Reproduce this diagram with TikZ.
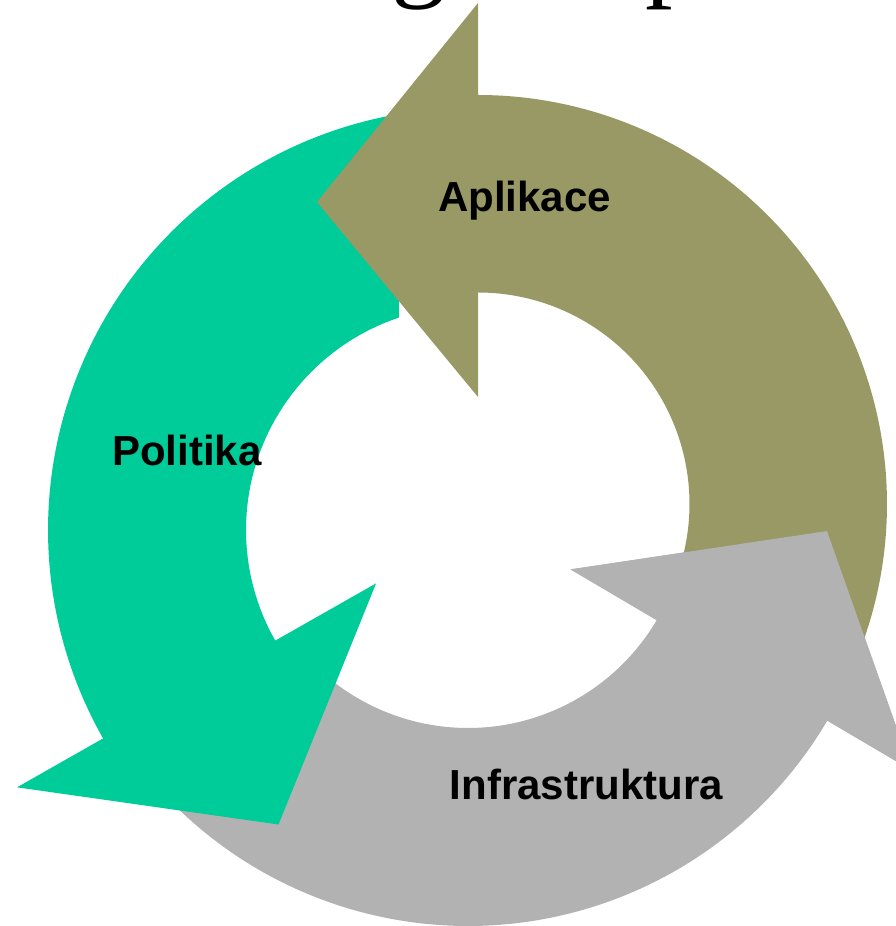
\documentclass[tikz,border=0pt]{standalone}
\usepackage{fontspec}
\setmainfont{Liberation Sans}
\newfontfamily\titlefont{Liberation Serif}
\usetikzlibrary{calc}
\definecolor{olivec}{RGB}{153,153,102}
\definecolor{greenc}{RGB}{0,204,153}
\definecolor{greyc}{RGB}{178,178,178}
\begin{document}
\begin{tikzpicture}[x=1pt,y=1pt,
  lbl/.style={font=\fontsize{42}{50}\selectfont\bfseries, inner sep=0pt, anchor=base, text=black},
  ttl/.style={font=\titlefont\fontsize{110}{130}\selectfont, inner sep=0pt, anchor=base west, text=black}]
\useasboundingbox (0,0) rectangle (895,926);
% centres of the three circular arrows
\coordinate (CG) at (470,396);
\coordinate (CO) at (478,422);
\coordinate (CY) at (468,417);
% grey arrow (Infrastruktura)
\fill[greyc] ($(CY)+(225:417)$) arc[start angle=225, end angle=329.5, radius=417]
  -- ($(CY)+(-30.5:515)$) -- ($(CY)+(-30.5:320.5)+(59.5:163.2)$) -- ($(CY)+(-30.5:119)$)
  -- ($(CY)+(-30.5:219)$) arc[start angle=329.5, end angle=225, radius=219] -- cycle;
% green arrow (Politika)
\fill[greenc] ($(CG)+(99.7:422)$) arc[start angle=99.7, end angle=209.6, radius=422]
  -- ($(CG)+(209.6:521)$) -- ($(CG)+(209.6:312)+(299.6:161.5)$) -- ($(CG)+(209.6:108)$)
  -- ($(CG)+(209.6:224)$) arc[start angle=209.6, end angle=108.5, radius=224] -- cycle;
% olive arrow (Aplikace)
\fill[olivec] ($(CO)+(-20.5:409)$) arc[start angle=-20.5, end angle=90, radius=409]
  -- ($(CO)+(90:501)$) -- ($(CO)+(90:302)+(180:161)$) -- ($(CO)+(90:107)$)
  -- ($(CO)+(90:211.5)$) arc[start angle=90, end angle=-20.5, radius=211.5] -- cycle;
% grey arrow head on top of the olive tail
\fill[greyc] ($(CY)+(-30.5:515)$) -- ($(CY)+(-30.5:320.5)+(59.5:163.2)$) -- ($(CY)+(-30.5:119)$) -- cycle;
% labels
\node[lbl] (aplikace) at (524.5,714) {Aplikace};
\node[lbl] (politika) at (186.7,460) {Politika};
\node[lbl] (infra) at (586.5,126) {Infrastruktura};
% cut-off title letters
\node[ttl] (tg) at (391,939) {g};
\node[ttl] (tp) at (645,939) {p};
\end{tikzpicture}
\end{document}
